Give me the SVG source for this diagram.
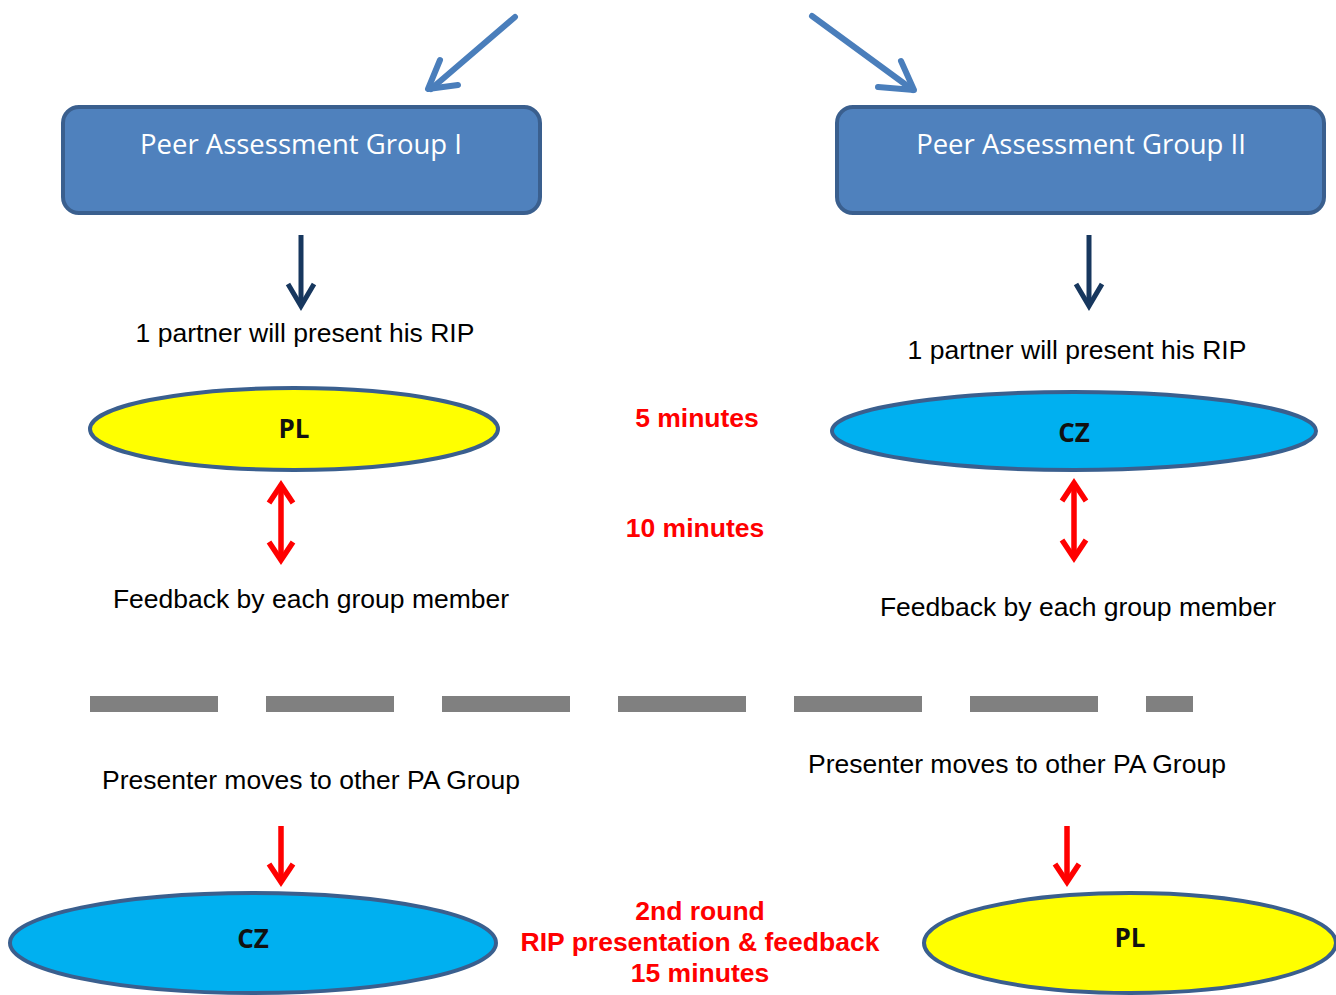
<svg xmlns="http://www.w3.org/2000/svg" width="1336" height="995" viewBox="0 0 1336 995">
<style>
.box{fill:#4f81bd;stroke:#3a5f8e;stroke-width:4}
.ell{stroke:#3a5f8e;stroke-width:4}
.bt{font-family:"Open Sans",sans-serif;font-size:27.5px;fill:#fff;text-anchor:middle}
.lbl{font-family:"Open Sans",sans-serif;font-size:26px;font-weight:bold;fill:#111;text-anchor:middle}
.t{font-family:"Liberation Sans",Arial,sans-serif;font-size:26.5px;fill:#000;text-anchor:middle}
.r{font-family:"Liberation Sans",Arial,sans-serif;font-size:26.5px;font-weight:bold;fill:#ff0000;text-anchor:middle}
.blue{stroke:#4a7ebb;stroke-width:6;fill:none;stroke-linecap:round;stroke-linejoin:round}
.dark{stroke:#17375e;stroke-width:5;fill:none}
.red{stroke:#ff0000;stroke-width:5.5;fill:none;stroke-linejoin:miter}
</style>
<rect width="1336" height="995" fill="#fff"/>
<g id="connectors">
<line class="blue" x1="515" y1="17" x2="431" y2="89"/>
<path class="blue" d="M440 60 L428 89 L458 85"/>
<line class="blue" x1="812" y1="16" x2="913" y2="90"/>
<path class="blue" d="M878 87 L914 90 L901 61"/>
<line class="dark" x1="301" y1="235" x2="301" y2="305"/>
<path class="dark" d="M288 284 L301 306 L314 284"/>
<line class="dark" x1="1089" y1="235" x2="1089" y2="305"/>
<path class="dark" d="M1076 284 L1089 306 L1102 284"/>
<line class="red" x1="281" y1="486" x2="281" y2="559"/>
<path class="red" d="M269 503 L281 485 L293 503 M269 542 L281 560 L293 542"/>
<line class="red" x1="1074" y1="484" x2="1074" y2="558"/>
<path class="red" d="M1062 501 L1074 483 L1086 501 M1062 540 L1074 558 L1086 540"/>
<line class="red" x1="281" y1="826" x2="281" y2="882"/>
<path class="red" d="M269 864 L281 882 L293 864"/>
<line class="red" x1="1067" y1="826" x2="1067" y2="882"/>
<path class="red" d="M1055 864 L1067 882 L1079 864"/>
</g>
<g id="group1">
<rect class="box" x="63" y="107" width="477" height="106" rx="16"/>
<text class="bt" x="301" y="154">Peer Assessment Group I</text>
</g>
<g id="group2">
<rect class="box" x="837" y="107" width="487" height="106" rx="16"/>
<text class="bt" x="1081" y="154">Peer Assessment Group II</text>
</g>
<g id="t1"><text class="t" x="305" y="342">1 partner will present his RIP</text></g>
<g id="t2"><text class="t" x="1077" y="359">1 partner will present his RIP</text></g>
<g id="pl1">
<ellipse class="ell" cx="294" cy="429" rx="204" ry="41" fill="#ffff00"/>
<text class="lbl" x="294" y="438">PL</text>
</g>
<g id="cz1">
<ellipse class="ell" cx="1074" cy="431" rx="242" ry="39" fill="#00b0f0"/>
<text class="lbl" x="1074" y="442">CZ</text>
</g>
<g id="m5"><text class="r" x="697" y="427">5 minutes</text></g>
<g id="m10"><text class="r" x="695" y="537">10 minutes</text></g>
<g id="f1"><text class="t" x="311" y="608">Feedback by each group member</text></g>
<g id="f2"><text class="t" x="1078" y="616">Feedback by each group member</text></g>
<g id="divider">
<line x1="90" y1="704" x2="1193" y2="704" stroke="#808080" stroke-width="16" stroke-dasharray="128 48"/>
</g>
<g id="p1"><text class="t" x="311" y="789">Presenter moves to other PA Group</text></g>
<g id="p2"><text class="t" x="1017" y="773">Presenter moves to other PA Group</text></g>
<g id="cz2">
<ellipse class="ell" cx="253" cy="943" rx="243" ry="50" fill="#00b0f0"/>
<text class="lbl" x="253" y="948">CZ</text>
</g>
<g id="pl2">
<ellipse class="ell" cx="1130" cy="943" rx="206" ry="50" fill="#ffff00"/>
<text class="lbl" x="1130" y="947">PL</text>
</g>
<g id="round2">
<text class="r" x="700" y="920">2nd round</text>
<text class="r" x="700" y="951">RIP presentation &amp; feedback</text>
<text class="r" x="700" y="982">15 minutes</text>
</g>
</svg>
